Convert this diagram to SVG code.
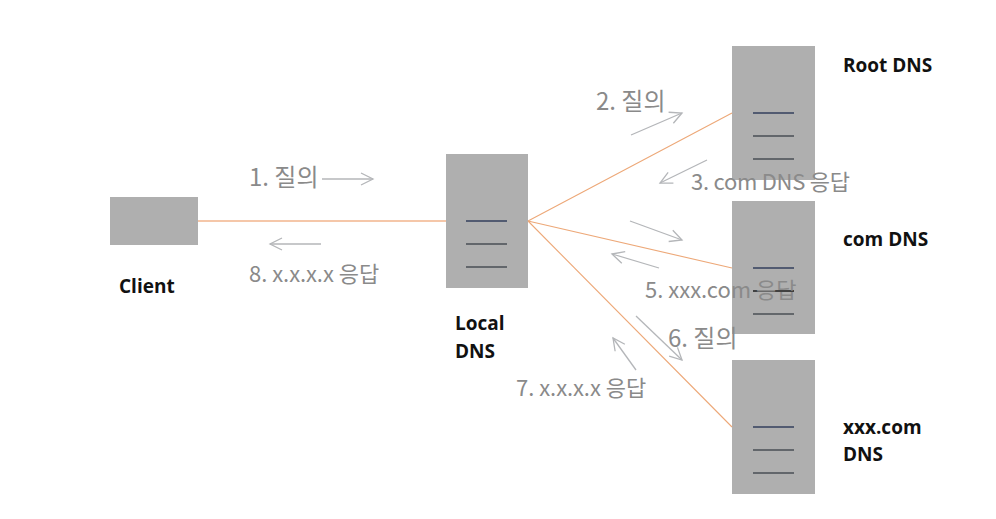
<svg xmlns="http://www.w3.org/2000/svg" width="996" height="519" viewBox="0 0 996 519">
<style>
.box{fill:#afafaf}
.row{stroke:#4a4f55;stroke-width:1.3;fill:none}
.top{stroke:#333f5c}
.dark{stroke:#1c1c1c}
.link{stroke:#eda878;stroke-width:1.1;fill:none}
.trunk{stroke:#f2b48c;stroke-width:1.7}
.flow{stroke:#b4b6b9;stroke-width:1.3;fill:none;marker-end:url(#open)}
.step{font-family:"Noto Sans CJK KR","Noto Sans",sans-serif;font-size:22px;fill:#8a8a8a}
.ask{font-size:24px}
.name{font-family:"Open Sans","Noto Sans",sans-serif;font-size:19px;font-weight:700;fill:#111}
</style>
<defs>
<marker id="open" markerUnits="userSpaceOnUse" markerWidth="20" markerHeight="20" refX="15" refY="10" orient="auto"><path d="M3 4L15 10L3 16" fill="none" stroke="#b4b6b9" stroke-width="1.3"/></marker>
</defs>
<rect width="996" height="519" fill="#fff"/>
<g id="client"><rect class="box" x="110" y="197" width="88" height="48"/><text class="name" x="119" y="293">Client</text></g>
<g id="local-dns"><rect class="box" x="446" y="154" width="82" height="134"/><path class="row top" d="M466 221H507"/><path class="row" d="M466 244H507M466 267H507"/><text class="name" x="455" y="330">Local</text><text class="name" x="455" y="358">DNS</text></g>
<g id="root-dns"><rect class="box" x="732" y="46" width="83" height="134"/><path class="row top" d="M753 113H794"/><path class="row" d="M753 136H794M753 159H794"/><text class="name" x="843" y="72">Root DNS</text></g>
<g id="com-dns"><rect class="box" x="732" y="201" width="83" height="133"/><path class="row top" d="M753 268H794"/><path class="row dark" d="M753 291H794"/><path class="row" d="M753 314H794"/><text class="name" x="843" y="246">com DNS</text></g>
<g id="xxx-dns"><rect class="box" x="732" y="360" width="83" height="134"/><path class="row top" d="M753 427H794"/><path class="row" d="M753 450H794M753 473H794"/><text class="name" x="843" y="434">xxx.com</text><text class="name" x="843" y="461">DNS</text></g>
<g id="connectors">
<path class="link trunk" d="M198 221H446"/>
<path class="link" d="M528 221L732 113M528 221L732 268M528 221L732 427"/>
<path class="flow" d="M322 179H373"/>
<path class="flow" d="M321 244H270"/>
<path class="flow" d="M631 135L682 113"/>
<path class="flow" d="M707 160L660 183"/>
<path class="flow" d="M630 221L682 240"/>
<path class="flow" d="M659 268L612 254"/>
<path class="flow" d="M636 316L682 360"/>
<path class="flow" d="M636 370L613 338"/>
</g>
<g id="labels">
<text class="step ask" x="249" y="186">1. 질의</text>
<text class="step ask" x="596" y="110">2. 질의</text>
<text class="step" x="691" y="190" textLength="159">3. com DNS 응답</text>
<text class="step" x="645" y="298">5. xxx.com 응답</text>
<text class="step ask" x="668" y="347">6. 질의</text>
<text class="step" x="516" y="396">7. x.x.x.x 응답</text>
<text class="step" x="249" y="282">8. x.x.x.x 응답</text>
</g>
</svg>
